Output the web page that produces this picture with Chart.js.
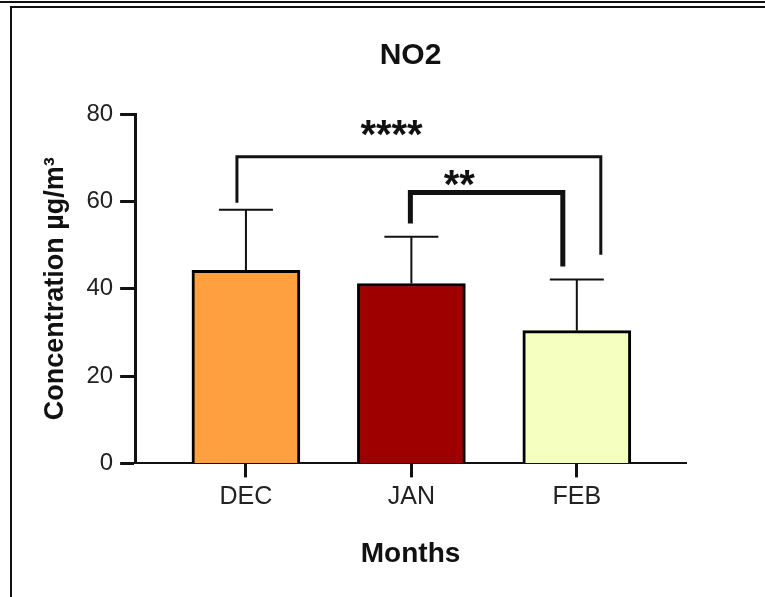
<!doctype html>
<html>
<head>
  <title>NO2</title>
  <script src="https://cdn.jsdelivr.net/npm/chart.js@4.4.0/dist/chart.umd.min.js"></script>
  <style>
    body { margin: 0; background: #fff; }
    #wrap { position: relative; width: 765px; height: 597px; overflow: hidden; }
    .rule { position: absolute; background: #111; }
    canvas { position: absolute; left: 0; top: 0; }
  </style>
</head>
<body>
<div id="wrap">
  <div class="rule" style="left:0;top:1px;width:765px;height:2px"></div>
  <div class="rule" style="left:10px;top:6px;width:755px;height:2px"></div>
  <div class="rule" style="left:10px;top:6px;width:2px;height:591px"></div>
  <canvas id="canvas" width="765" height="597"></canvas>
</div>

<script>
  var months = ['DEC', 'JAN', 'FEB'];
  var means = [44.2, 41.2, 30.4];
  var sds = [13.9, 10.7, 11.7];
  var barColors = ['#FFA040', '#9E0000', '#F4FFC0'];

  // significance brackets (category index, heights in µg/m3)
  var pairs = [
    {from: 0, to: 2, top: 70.2, leftEnd: 59.7, rightEnd: 47.8, stars: '****', starAt: 0.88, starY: 76.8},
    {from: 1, to: 2, top: 62.0, leftEnd: 54.9, rightEnd: 45.1, stars: '**', starAt: 1.29, starY: 65.4}
  ];

  // pixel nudges for the bracket legs and line weights
  var legShift = [[-9, 24], [-1, -14]];
  var pairWidth = [3, 5];

  Chart.defaults.font.family = '"Liberation Sans", Arial, sans-serif';

  var annotate = {
    id: 'annotate',
    afterDatasetsDraw: function (chart) {
      var ctx = chart.ctx, xs = chart.scales.x, ys = chart.scales.y;
      var bars = chart.getDatasetMeta(0).data;
      ctx.save();
      ctx.strokeStyle = '#111';
      ctx.lineWidth = 2;
      bars.forEach(function (bar, i) {
        var top = ys.getPixelForValue(means[i] + sds[i]);
        ctx.beginPath();
        ctx.moveTo(bar.x, bar.y);
        ctx.lineTo(bar.x, top);
        ctx.moveTo(bar.x - 27, top);
        ctx.lineTo(bar.x + 27, top);
        ctx.stroke();
      });

      pairs.forEach(function (p, k) {
        var x1 = xs.getPixelForValue(p.from) + legShift[k][0];
        var x2 = xs.getPixelForValue(p.to) + legShift[k][1];
        var yt = ys.getPixelForValue(p.top);
        ctx.lineWidth = pairWidth[k];
        ctx.lineJoin = 'miter';
        ctx.beginPath();
        ctx.moveTo(x1, ys.getPixelForValue(p.leftEnd));
        ctx.lineTo(x1, yt);
        ctx.lineTo(x2, yt);
        ctx.lineTo(x2, ys.getPixelForValue(p.rightEnd));
        ctx.stroke();

        ctx.font = 'bold 40px "Liberation Sans", Arial, sans-serif';
        ctx.fillStyle = '#111';
        ctx.textAlign = 'center';
        ctx.textBaseline = 'alphabetic';
        var m = ctx.measureText(p.stars);
        var mid = (m.actualBoundingBoxAscent - m.actualBoundingBoxDescent) / 2;
        ctx.fillText(p.stars, xs.getPixelForValue(p.starAt), ys.getPixelForValue(p.starY) + mid);
      });
      ctx.restore();
    }
  };

  var chart = new Chart('canvas', {
    type: 'bar',
    data: {
      datasets: [{
        data: months.map(function (m, i) { return {x: i, y: means[i]}; }),
        backgroundColor: barColors,
        borderColor: '#000',
        borderWidth: 3,
        barThickness: 108
      }]
    },
    options: {
      responsive: false,
      animation: false,
      devicePixelRatio: 1,
      layout: { padding: { left: 20, right: 79, top: 12, bottom: 0 } },
      plugins: {
        legend: { display: false },
        tooltip: { enabled: false },
        title: {
          display: true,
          text: 'NO2',
          fullSize: false,
          color: '#111',
          font: { size: 30, weight: 'bold' },
          padding: { top: 26, bottom: 40 }
        }
      },
      scales: {
        x: {
          type: 'linear',
          offset: false,
          min: -0.67,
          max: 2.66,
          afterBuildTicks: function (s) {
            s.ticks = months.map(function (m, i) { return {value: i}; });
          },
          ticks: {
            callback: function (v) { return months[v]; },
            color: '#222',
            font: { size: 25 },
            padding: 5,
            autoSkip: false,
            maxRotation: 0
          },
          grid: { offset: false, drawOnChartArea: false, tickLength: 14, tickWidth: 3, tickColor: '#111' },
          border: { color: '#111', width: 2 },
          title: {
            display: true,
            text: 'Months',
            color: '#111',
            font: { size: 28, weight: 'bold' },
            padding: { top: 20, bottom: 26 }
          }
        },
        y: {
          min: 0,
          max: 80,
          ticks: { stepSize: 20, color: '#222', font: { size: 24 }, padding: 7 },
          grid: { drawOnChartArea: false, tickLength: 15, tickWidth: 3, tickColor: '#111' },
          border: { color: '#111', width: 3 },
          title: {
            display: true,
            text: 'Concentration µg/m³',
            color: '#111',
            font: { size: 27, weight: 'bold' },
            padding: { top: 19, bottom: 8 }
          }
        }
      }
    },
    plugins: [annotate]
  });
</script>
</body>
</html>
